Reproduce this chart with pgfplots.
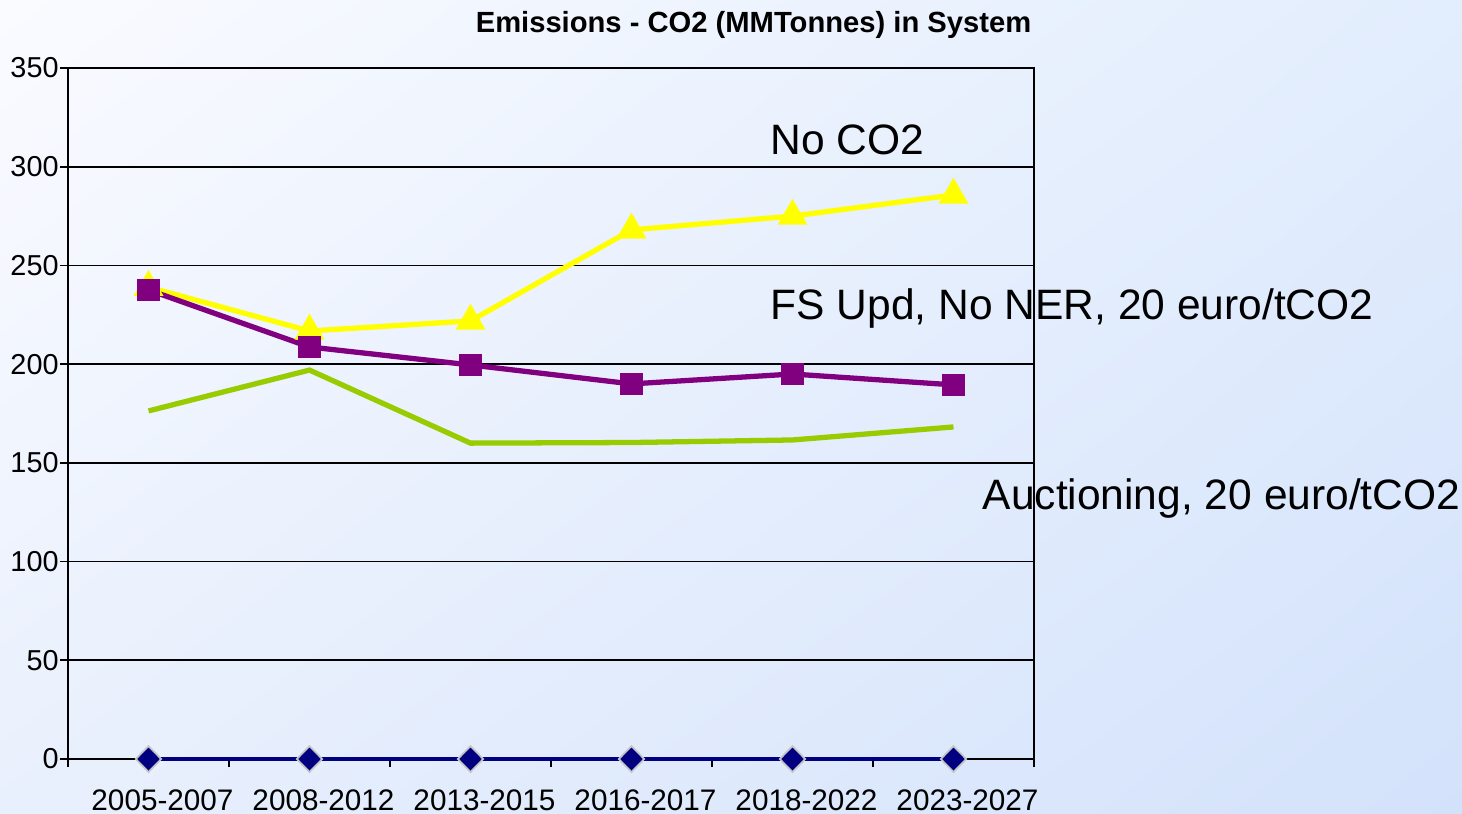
\documentclass[border=0pt]{standalone}
\usepackage{pgfplots}
\pgfplotsset{compat=1.18}
\usetikzlibrary{shadings}
\usepackage{fontspec}
\setmainfont{Liberation Sans}
\definecolor{bgUL}{HTML}{FAFBFF}
\definecolor{bgUR}{HTML}{E2EDFD}
\definecolor{bgLL}{HTML}{E9F0FD}
\definecolor{bgLR}{HTML}{D3E2FB}
\definecolor{ser1}{HTML}{FFFF00}
\definecolor{ser2}{HTML}{800080}
\definecolor{ser3}{HTML}{99CC00}
\definecolor{ser4}{HTML}{000080}
\begin{document}
\begin{tikzpicture}
\shade[upper left=bgUL, upper right=bgUR, lower left=bgLL, lower right=bgLR] (0,0) rectangle (14.62,8.13);
\useasboundingbox (0,0) rectangle (14.62,8.13);
\begin{axis}[
  at={(0.68cm,0.54cm)}, anchor=south west,
  scale only axis, width=9.66cm, height=6.91cm,
  xmin=-0.5, xmax=5.5, ymin=0, ymax=350,
  xtick={0,...,5},
  xticklabels={2005-2007,2008-2012,2013-2015,2016-2017,2018-2022,2023-2027},
  minor xtick={-0.5,0.5,...,5.5},
  major x tick style={draw=none},
  ytick={0,50,...,350},
  tick align=outside, xtick pos=lower, ytick pos=lower,
  major tick length=0.08cm, minor tick length=0.08cm,
  ymajorgrids, grid style={black, line width=0.5pt},
  axis line style={black, line width=0.5pt},
  tick style={black, line width=0.5pt},
  /pgf/number format/assume math mode=true,
  ticklabel style={font=\fontsize{8.2}{9.6}\selectfont},
  yticklabel style={xshift=0.11cm},
  xticklabel style={yshift=-0.10cm, xshift=0.14cm, font=\fontsize{8.45}{9.6}\selectfont},
  clip=false,
]
\addplot[ser1, line width=1.5pt, mark=triangle*, mark size=3.4pt, mark options={fill=ser1, draw=ser1}]
  coordinates {(0,239) (1,216.8) (2,221.9) (3,268) (4,275) (5,285.7)};
\addplot[ser2, line width=1.5pt, mark=square*, mark size=2.4pt, mark options={fill=ser2, draw=ser2}]
  coordinates {(0,237.6) (1,208.7) (2,199.6) (3,190) (4,195) (5,189.5)};
\addplot[ser3, line width=1.5pt, mark=none]
  coordinates {(0,176.3) (1,197) (2,160) (3,160.3) (4,161.6) (5,168.2)};
\addplot[ser4, line width=1.4pt, mark=diamond*, mark size=3.7pt, mark options={fill=ser4, draw=gray!45, line width=0.5pt, xscale=1.3}]
  coordinates {(0,0) (1,0) (2,0) (3,0) (4,0) (5,0)};
\end{axis}
\node[anchor=center, inner sep=0, font=\bfseries\fontsize{8.3}{10}\selectfont] at (7.535,7.88) {Emissions - CO2 (MMTonnes) in System};
\node[anchor=west, inner sep=0, font=\fontsize{12.1}{14}\selectfont] at (7.70,6.73) {No CO2};
\node[anchor=west, inner sep=0, font=\fontsize{12.1}{14}\selectfont] at (7.70,5.05) {FS Upd, No NER, 20 euro/tCO2};
\node[anchor=west, inner sep=0, font=\fontsize{12.1}{14}\selectfont] at (9.82,3.15) {Auctioning, 20 euro/tCO2};
\end{tikzpicture}
\end{document}
